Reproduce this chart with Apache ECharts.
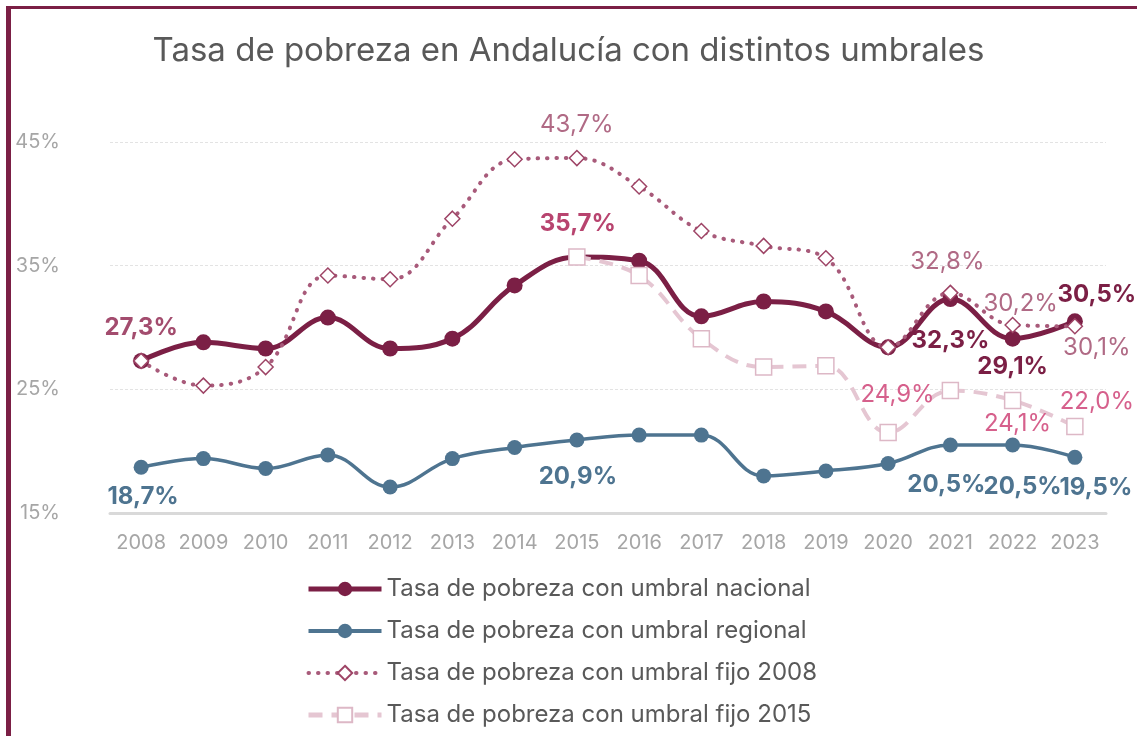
<!DOCTYPE html>
<html lang="es">
<head>
  <meta charset="utf-8">
  <title>Tasa de pobreza en Andalucía</title>
  <script src="https://cdn.jsdelivr.net/npm/echarts@6/dist/echarts.min.js"></script>
</head>
<body style="margin: 0; background: #fff">
<div id="frame" style="position: absolute; left: 6px; top: 6px; right: -10px; bottom: -10px; border-left: 5px solid #7b1f45; border-top: 3px solid #7b1f45;"></div>
<div id="main" style="position: absolute; left: 0; top: 0; width: 1137px; height: 736px"></div>

<script type="text/javascript">
  var years = ['2008','2009','2010','2011','2012','2013','2014','2015','2016','2017','2018','2019','2020','2021','2022','2023'];
  var nacional = [27.3, 28.8, 28.3, 30.8, 28.3, 29.1, 33.4, 35.7, 35.4, 30.9, 32.1, 31.3, 28.4, 32.3, 29.1, 30.5];
  var regional = [18.7, 19.4, 18.6, 19.7, 17.1, 19.4, 20.3, 20.9, 21.3, 21.3, 18.0, 18.4, 19.0, 20.5, 20.5, 19.5];
  var fijo2008 = [27.3, 25.3, 26.8, 34.2, 33.9, 38.8, 43.6, 43.7, 41.4, 37.8, 36.6, 35.6, 28.4, 32.8, 30.2, 30.1];
  var fijo2015 = [null, null, null, null, null, null, null, 35.7, 34.2, 29.1, 26.8, 26.9, 21.5, 24.9, 24.1, 22.0];
  var yTicks = [15, 25, 35, 45];

  var fmt = function (v) { return v.toFixed(1).replace('.', ',') + '%'; };

  // etiquetas: indice -> ajustes de la etiqueta
  function withLabels(values, labels, base) {
    return values.map(function (v, i) {
      if (labels[i] == null) return v;
      return {
        value: v,
        label: Object.assign({ show: true, formatter: function (p) { return fmt(p.value); } }, base, labels[i])
      };
    });
  }

  var lblFont = { fontFamily: 'Inter', fontSize: 24 };

  var mychart = echarts.init(document.getElementById('main'));

  mychart.setOption({
    animation: false,
    textStyle: { fontFamily: 'Inter' },
    title: {
      text: 'Tasa de pobreza en Andalucía con distintos umbrales',
      left: 'center',
      top: 30,
      textStyle: { fontFamily: 'Inter', fontSize: 33, fontWeight: 'normal', color: '#595959' }
    },
    legend: {
      orient: 'vertical',
      left: 306,
      top: 577,
      padding: 0,
      itemWidth: 73,
      itemHeight: 18,
      itemGap: 18,
      textStyle: { fontFamily: 'Inter', fontSize: 24, color: '#595959' },
      data: [
        { name: 'Tasa de pobreza con umbral nacional', lineStyle: { width: 5 } },
        { name: 'Tasa de pobreza con umbral regional', lineStyle: { width: 4 } },
        { name: 'Tasa de pobreza con umbral fijo 2008', lineStyle: { width: 4 } },
        { name: 'Tasa de pobreza con umbral fijo 2015', lineStyle: { width: 5 } }
      ]
    },
    grid: { left: 110, right: 31, top: 142, bottom: 223 },
    xAxis: {
      type: 'category',
      data: years,
      boundaryGap: true,
      axisLine: { lineStyle: { color: '#d9d9d9', width: 3 } },
      axisTick: { show: false },
      axisLabel: { color: '#a6a6a6', fontSize: 20, margin: 20, interval: 0, fontFamily: 'Inter' }
    },
    yAxis: {
      type: 'value',
      min: yTicks[0],
      max: yTicks[yTicks.length - 1],
      interval: 10,
      axisLine: { show: false },
      axisTick: { show: false },
      axisLabel: { color: '#a6a6a6', fontSize: 20, margin: 50, fontFamily: 'Inter', formatter: '{value}%' },
      splitLine: { lineStyle: { color: '#e3e3e3', type: [3, 2], width: 1 } }
    },
    series: [
      {
        name: 'Tasa de pobreza con umbral nacional',
        type: 'line',
        smooth: 0.4,
        symbol: 'circle',
        symbolSize: 16,
        itemStyle: { color: '#7b1f45' },
        lineStyle: { color: '#7b1f45', width: 5 },
        data: withLabels(nacional, {
          0: { position: 'top', offset: [0, -8], color: '#a34c6e' },
          7: { position: 'top', offset: [1, -8], color: '#b8446f' },
          13: { position: 'bottom', offset: [0, 17] },
          14: { position: 'bottom', offset: [0, 3] },
          15: { position: 'top', offset: [22, -2] }
        }, Object.assign({ fontWeight: 'bold', color: '#7b1f45' }, lblFont))
      },
      {
        name: 'Tasa de pobreza con umbral regional',
        type: 'line',
        smooth: 0.4,
        symbol: 'circle',
        symbolSize: 15,
        itemStyle: { color: '#4e7490' },
        lineStyle: { color: '#4e7490', width: 3.5 },
        data: withLabels(regional, {
          0: { position: 'bottom', offset: [2, 5] },
          7: { position: 'bottom', offset: [1, 12] },
          13: { position: 'bottom', offset: [-4, 15] },
          14: { position: 'bottom', offset: [10, 17] },
          15: { position: 'bottom', offset: [21, 6] }
        }, Object.assign({ fontWeight: 'bold', color: '#4e7490' }, lblFont))
      },
      {
        name: 'Tasa de pobreza con umbral fijo 2008',
        type: 'line',
        smooth: 0.4,
        symbol: 'diamond',
        symbolSize: 15,
        itemStyle: { color: '#ffffff', borderColor: '#9e4466', borderWidth: 1.5 },
        lineStyle: { color: '#a85a7a', width: 4, type: [0.5, 9], cap: 'round' },
        data: withLabels(fijo2008, {
          7: { position: 'top', offset: [0, -8] },
          13: { position: 'top', offset: [-3, -6] },
          14: { position: 'top', offset: [8, 4] },
          15: { position: 'bottom', offset: [22, -4] }
        }, Object.assign({ fontWeight: 'normal', color: '#b06a85' }, lblFont))
      },
      {
        name: 'Tasa de pobreza con umbral fijo 2015',
        type: 'line',
        smooth: 0.4,
        symbol: 'rect',
        symbolSize: 16,
        itemStyle: { color: '#ffffff', borderColor: '#ddb8c6', borderWidth: 1.5 },
        lineStyle: { color: '#e5c6d2', width: 4, type: [14, 9] },
        data: withLabels(fijo2015, {
          13: { position: 'left', offset: [-2, 4] },
          14: { position: 'bottom', offset: [5, -2] },
          15: { position: 'top', offset: [22, 1] }
        }, Object.assign({ fontWeight: 'normal', color: '#d6608c' }, lblFont))
      }
    ]
  });

  window.addEventListener('resize', mychart.resize);
</script>
</body>
</html>
